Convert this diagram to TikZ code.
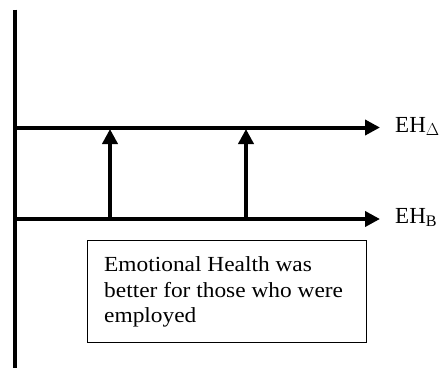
\documentclass[tikz,border=0pt]{standalone}
\usepackage{fontspec}
\setmainfont{Liberation Serif}
\usetikzlibrary{arrows.meta}
\begin{document}
\begin{tikzpicture}[x=1pt,y=-1pt,
  axis/.style={line width=4.5pt},
  arr/.style={line width=4pt,-{Triangle[length=15pt,width=15pt]}},
  lbl/.style={anchor=base west,inner sep=0pt,font=\fontsize{23}{25}\selectfont},
  note/.style={draw,line width=1pt,anchor=north west,minimum width=279pt,minimum height=102pt,inner sep=0pt},
  notetext/.style={anchor=base west,inner sep=0pt,xscale=1.087,transform shape,font=\fontsize{21.5}{25.5}\selectfont}]
\useasboundingbox (0,0) rectangle (440,368);
\coordinate (ytop) at (15,9.5);
\coordinate (ybot) at (15,368);
\draw[axis] (ytop) -- (ybot);
\coordinate (a0) at (13,127.5);
\coordinate (a1) at (380,127.5);
\coordinate (b0) at (13,219);
\coordinate (b1) at (380,219);
\draw[arr] (a0) -- (a1);
\draw[arr] (b0) -- (b1);
\coordinate (u1) at (110,219);
\coordinate (v1) at (110,129);
\coordinate (u2) at (246,219);
\coordinate (v2) at (246,129);
\draw[arr] (u1) -- (v1);
\draw[arr] (u2) -- (v2);
\node[lbl] (la) at (395,132) {EH$_{\Delta}$};
\node[lbl] (lb) at (395,223) {EH$_{\mathrm{B}}$};
\node[note] (box) at (87,240) {};
\node[notetext] (t1) at (104,271.5) {Emotional Health was};
\node[notetext] (t2) at (104,297) {better for those who were};
\node[notetext] (t3) at (104,322.5) {employed};
\end{tikzpicture}
\end{document}
